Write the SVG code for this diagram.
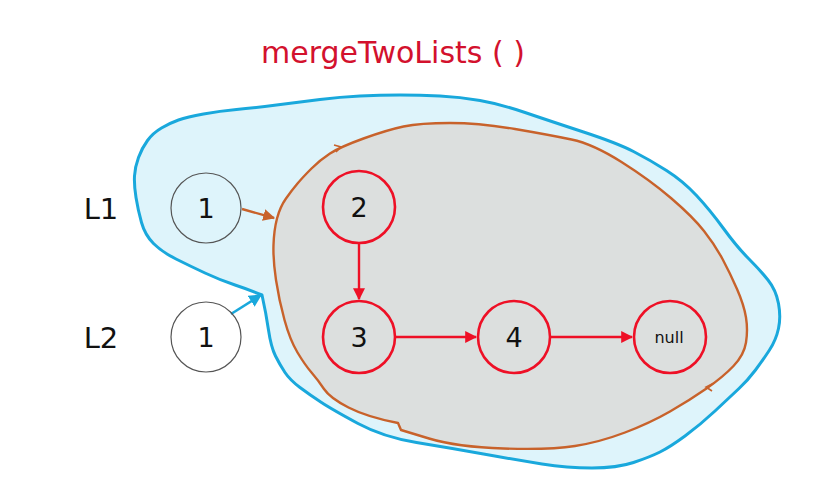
<svg xmlns="http://www.w3.org/2000/svg" width="824" height="495" viewBox="0 0 824 495">
<defs>
<style>
.lbl{font-family:"DejaVu Sans","Open Sans",sans-serif;fill:#111}
.wn{fill:#ffffff;fill-opacity:0;stroke:#555;stroke-width:1.2}
.rn{fill:none;stroke:#ee1026;stroke-width:2.6}
.red{stroke:#ee1026;stroke-width:2.4;fill:none}
</style>
<marker id="ar" viewBox="0 0 10 10" refX="9" refY="5" markerWidth="5" markerHeight="5" orient="auto"><path d="M0,0 L10,5 L0,10 z" fill="#ee1026"/></marker>
<marker id="ao" viewBox="0 0 10 10" refX="9" refY="5" markerWidth="5" markerHeight="5" orient="auto"><path d="M0,0 L10,5 L0,10 z" fill="#c8622b"/></marker>
<marker id="ab" viewBox="0 0 10 10" refX="9" refY="5" markerWidth="5" markerHeight="5" orient="auto"><path d="M0,0 L10,5 L0,10 z" fill="#19a8dc"/></marker>
</defs>
<rect width="824" height="495" fill="#ffffff"/>
<text x="393" y="63" text-anchor="middle" font-size="30" font-family="'DejaVu Sans','Open Sans',sans-serif" fill="#d3112d">mergeTwoLists ( )</text>
<g id="outer-region">
<path d="M262,295 Q250,290 235,285 Q220,280 205,273 Q190,266 176,259 Q162,252 153.5,243.5 Q145,235 141.5,222.5 Q138,210 136,197.5 Q134,185 134.5,176 Q135,167 138.5,157.5 Q142,148 147.5,140.5 Q153,133 161.5,128 Q170,123 178.5,120 Q187,117 203.5,114 Q220,111 236.5,109.5 Q253,108 276.5,105 Q300,102 320,99.5 Q340,97 360,96 Q380,95 400,95 Q420,95 440,96 Q460,97 480,100.5 Q500,104 525,112.5 Q550,121 583.5,132 Q617,143 633.5,151.5 Q650,160 666.5,170.5 Q683,181 696.5,195.5 Q710,210 723.5,228.5 Q737,247 748.5,258.5 Q760,270 768,280 Q776,290 778.5,303.5 Q781,317 778.5,328.5 Q776,340 769.5,350 Q763,360 755.5,370 Q748,380 739,388.5 Q730,397 715,411 Q700,425 685,436 Q670,447 660,452 Q650,457 633.5,462.5 Q617,468 592,468 Q567,468 542,464 Q517,460 483.5,454 Q450,448 416.5,442.5 Q383,437 358,423.5 Q333,410 321.5,402.5 Q310,395 300,387.5 Q290,380 285,372.5 Q280,365 275.5,356 Q271,347 268.5,330 Q266,313 262,295 Z" fill="#def4fb" stroke="#19a8dc" stroke-width="3" stroke-linejoin="round"/>
</g>
<g id="inner-region">
<path d="M277,218.5 Q280,207 286,198.5 Q292,190 297.5,183.5 Q303,177 311.5,168.5 Q320,160 330,153.5 Q340,147 363.5,138.5 Q387,130 403.5,126.5 Q420,123 450,123 Q480,123 515,129 Q550,135 571.5,139.5 Q593,144 621.5,162 Q650,180 671.5,198.5 Q693,217 704,231 Q715,245 722.5,259 Q730,273 737,289 Q744,305 746,317.5 Q748,330 746,342.5 Q744,355 733.5,366 Q723,377 706.5,388.5 Q690,400 670,411.5 Q650,423 625,432.5 Q600,442 575,446 Q550,450 503.5,448.5 Q457,447 429,438.5 L401,430 L398,423 Q367,417 348.5,407.5 Q330,398 324,389 Q318,380 311.5,372.5 Q305,365 297.5,352.5 Q290,340 284.5,320 Q279,300 276,280 Q273,260 273.5,245 Q274,230 277,218.5 Z" fill="#dcdfde" stroke="#c8622b" stroke-width="2.4" stroke-linejoin="round"/>
<path d="M334,145 L341,147 L336,152" fill="none" stroke="#c8622b" stroke-width="1.6"/>
<path d="M714,383 L706,387 L712,391" fill="none" stroke="#c8622b" stroke-width="1.6"/>
</g>
<g id="connectors">
<line x1="242" y1="209" x2="274" y2="218" stroke="#c8622b" stroke-width="2.4" marker-end="url(#ao)"/>
<line x1="231" y1="314" x2="261" y2="295" stroke="#19a8dc" stroke-width="2.6" marker-end="url(#ab)"/>
<line class="red" x1="359" y1="244" x2="359" y2="299" marker-end="url(#ar)"/>
<line class="red" x1="396" y1="337" x2="476" y2="337" marker-end="url(#ar)"/>
<line class="red" x1="551" y1="337" x2="632" y2="337" marker-end="url(#ar)"/>
</g>
<g id="label-L1"><text class="lbl" x="101" y="219" font-size="29" text-anchor="middle">L1</text></g>
<g id="label-L2"><text class="lbl" x="101" y="348" font-size="29" text-anchor="middle">L2</text></g>
<g id="node-l1"><circle class="wn" cx="206" cy="208" r="35"/><text class="lbl" x="206" y="218" font-size="27" text-anchor="middle">1</text></g>
<g id="node-l2"><circle class="wn" cx="206" cy="337" r="35"/><text class="lbl" x="206" y="347" font-size="27" text-anchor="middle">1</text></g>
<g id="node-2"><circle class="rn" cx="359" cy="207" r="36"/><text class="lbl" x="359" y="217" font-size="27" text-anchor="middle">2</text></g>
<g id="node-3"><circle class="rn" cx="359" cy="337" r="36"/><text class="lbl" x="359" y="347" font-size="27" text-anchor="middle">3</text></g>
<g id="node-4"><circle class="rn" cx="514" cy="337" r="36"/><text class="lbl" x="514" y="347" font-size="27" text-anchor="middle">4</text></g>
<g id="node-null"><circle class="rn" cx="670" cy="337" r="36"/><text class="lbl" x="669" y="343" font-size="16" text-anchor="middle">null</text></g>
</svg>
